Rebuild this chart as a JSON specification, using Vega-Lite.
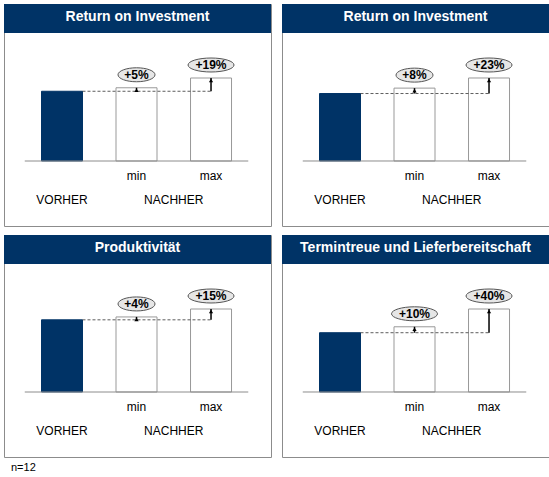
{
  "$schema": "https://vega.github.io/schema/vega-lite/v6.json",
  "description": "Vorher / Nachher, vier Kennzahlen",
  "background": "white",
  "padding": {"left": 3, "top": 3, "right": 0, "bottom": 0},
  "title": {
    "text": "n=12",
    "orient": "bottom",
    "anchor": "start",
    "frame": "group",
    "fontSize": 11,
    "fontWeight": "normal",
    "color": "black",
    "offset": 4,
    "dx": 7
  },
  "data": {
    "values": [
      {"p": 1, "phase": "VORHER", "grp": "VORHER", "pos": 1, "value": 100, "label": ""},
      {"p": 1, "phase": "min", "grp": "NACHHER", "pos": 2, "value": 105, "label": "+5%"},
      {"p": 1, "phase": "max", "grp": "NACHHER", "pos": 3, "value": 119, "label": "+19%"},
      {"p": 2, "phase": "VORHER", "grp": "VORHER", "pos": 1, "value": 100, "label": ""},
      {"p": 2, "phase": "min", "grp": "NACHHER", "pos": 2, "value": 108, "label": "+8%"},
      {"p": 2, "phase": "max", "grp": "NACHHER", "pos": 3, "value": 123, "label": "+23%"},
      {"p": 3, "phase": "VORHER", "grp": "VORHER", "pos": 1, "value": 100, "label": ""},
      {"p": 3, "phase": "min", "grp": "NACHHER", "pos": 2, "value": 104, "label": "+4%"},
      {"p": 3, "phase": "max", "grp": "NACHHER", "pos": 3, "value": 115, "label": "+15%"},
      {"p": 4, "phase": "VORHER", "grp": "VORHER", "pos": 1, "value": 100, "label": ""},
      {"p": 4, "phase": "min", "grp": "NACHHER", "pos": 2, "value": 110, "label": "+10%"},
      {"p": 4, "phase": "max", "grp": "NACHHER", "pos": 3, "value": 140, "label": "+40%"}
    ]
  },
  "columns": 2,
  "spacing": {"row": 7, "column": 9},
  "concat": [
    {
      "width": 267, "height": 222,
      "title": {"text": "Return on Investment", "color": "white", "fontSize": 14, "fontWeight": "bold", "anchor": "middle", "offset": -20},
      "transform": [{"filter": "datum.p == 1"}],
      "layer": [
        {"transform": [{"filter": "datum.phase == 'VORHER'"}], "mark": {"type": "rect", "color": "#003366"},
         "encoding": {
           "x": {"datum": 0.2215, "type": "quantitative", "scale": {"domain": [0.2215, 3.805], "nice": false, "zero": false, "padding": 0}, "axis": null},
           "x2": {"datum": 3.805},
           "y": {"datum": 183.52, "type": "quantitative", "scale": {"domain": [-93.19, 225.10], "nice": false, "zero": false, "padding": 0}, "axis": null},
           "y2": {"datum": 225.10}}},
        {"mark": {"type": "bar", "size": 41, "strokeWidth": 1},
         "encoding": {"x": {"field": "pos", "type": "quantitative"}, "y": {"field": "value", "type": "quantitative"}, "y2": {"datum": 0},
           "fill": {"condition": {"test": "datum.phase == 'VORHER'", "value": "#003366"}, "value": "white"},
           "stroke": {"condition": {"test": "datum.phase == 'VORHER'", "value": "#003366"}, "value": "#999999"}}},
        {"transform": [{"filter": "datum.phase == 'VORHER'"}], "mark": {"type": "rule", "color": "#8c8c8c", "strokeWidth": 1},
         "encoding": {"x": {"datum": 0.5, "type": "quantitative"}, "x2": {"datum": 3.5}, "y": {"datum": 0, "type": "quantitative"}}},
        {"transform": [{"filter": "datum.phase == 'VORHER'"}], "mark": {"type": "rule", "color": "#333333", "strokeWidth": 0.8, "strokeDash": [3, 2]},
         "encoding": {"x": {"datum": 1.275, "type": "quantitative"}, "x2": {"datum": 3}, "y": {"field": "value", "type": "quantitative"}}},
        {"transform": [{"filter": "datum.phase != 'VORHER'"}], "mark": {"type": "rule", "color": "black", "strokeWidth": 1.5},
         "encoding": {"x": {"field": "pos", "type": "quantitative"}, "y": {"field": "value", "type": "quantitative"}, "y2": {"datum": 100}}},
        {"transform": [{"filter": "datum.phase != 'VORHER'"}], "mark": {"type": "point", "shape": "triangle-up", "filled": true, "color": "black", "opacity": 1, "size": 18, "yOffset": 2.5},
         "encoding": {"x": {"field": "pos", "type": "quantitative"}, "y": {"field": "value", "type": "quantitative"}}},
        {"transform": [{"filter": "datum.phase != 'VORHER'"}], "mark": {"type": "point", "filled": true, "fill": "#e6e6e6", "stroke": "#555555", "strokeWidth": 1, "opacity": 1, "yOffset": -13},
         "encoding": {"x": {"field": "pos", "type": "quantitative"}, "y": {"field": "value", "type": "quantitative"},
           "shape": {"condition": {"test": "length(datum.label) < 4", "value": "M-1,0C-1,-0.209,-0.552,-0.378,0,-0.378C0.552,-0.378,1,-0.209,1,0C1,0.209,0.552,0.378,0,0.378C-0.552,0.378,-1,0.209,-1,0Z"}, "value": "M-1,0C-1,-0.168,-0.552,-0.304,0,-0.304C0.552,-0.304,1,-0.168,1,0C1,0.168,0.552,0.304,0,0.304C-0.552,0.304,-1,0.168,-1,0Z"},
           "size": {"condition": {"test": "length(datum.label) < 4", "value": 1369}, "value": 2116}}},
        {"transform": [{"filter": "datum.phase != 'VORHER'"}], "mark": {"type": "text", "fontSize": 12, "fontWeight": "bold", "color": "black", "baseline": "middle", "yOffset": -13},
         "encoding": {"x": {"field": "pos", "type": "quantitative"}, "y": {"field": "value", "type": "quantitative"}, "text": {"field": "label"}}},
        {"transform": [{"filter": "datum.phase != 'VORHER'"}], "mark": {"type": "text", "fontSize": 12, "color": "black", "baseline": "middle", "yOffset": 15},
         "encoding": {"x": {"field": "pos", "type": "quantitative"}, "y": {"datum": 0, "type": "quantitative"}, "text": {"field": "phase"}}},
        {"transform": [{"aggregate": [{"op": "mean", "field": "pos", "as": "pos"}], "groupby": ["grp"]}], "mark": {"type": "text", "fontSize": 12, "color": "black", "baseline": "middle", "yOffset": 39},
         "encoding": {"x": {"field": "pos", "type": "quantitative"}, "y": {"datum": 0, "type": "quantitative"}, "text": {"field": "grp"}}}
      ]
    },
    {
      "width": 267, "height": 222,
      "title": {"text": "Return on Investment", "color": "white", "fontSize": 14, "fontWeight": "bold", "anchor": "middle", "offset": -20},
      "transform": [{"filter": "datum.p == 2"}],
      "layer": [
        {"transform": [{"filter": "datum.phase == 'VORHER'"}], "mark": {"type": "rect", "color": "#003366"},
         "encoding": {
           "x": {"datum": 0.2215, "type": "quantitative", "scale": {"domain": [0.2215, 3.805], "nice": false, "zero": false, "padding": 0}, "axis": null},
           "x2": {"datum": 3.805},
           "y": {"datum": 189.69, "type": "quantitative", "scale": {"domain": [-96.33, 232.66], "nice": false, "zero": false, "padding": 0}, "axis": null},
           "y2": {"datum": 232.66}}},
        {"mark": {"type": "bar", "size": 41, "strokeWidth": 1},
         "encoding": {"x": {"field": "pos", "type": "quantitative"}, "y": {"field": "value", "type": "quantitative"}, "y2": {"datum": 0},
           "fill": {"condition": {"test": "datum.phase == 'VORHER'", "value": "#003366"}, "value": "white"},
           "stroke": {"condition": {"test": "datum.phase == 'VORHER'", "value": "#003366"}, "value": "#999999"}}},
        {"transform": [{"filter": "datum.phase == 'VORHER'"}], "mark": {"type": "rule", "color": "#8c8c8c", "strokeWidth": 1},
         "encoding": {"x": {"datum": 0.5, "type": "quantitative"}, "x2": {"datum": 3.5}, "y": {"datum": 0, "type": "quantitative"}}},
        {"transform": [{"filter": "datum.phase == 'VORHER'"}], "mark": {"type": "rule", "color": "#333333", "strokeWidth": 0.8, "strokeDash": [3, 2]},
         "encoding": {"x": {"datum": 1.275, "type": "quantitative"}, "x2": {"datum": 3}, "y": {"field": "value", "type": "quantitative"}}},
        {"transform": [{"filter": "datum.phase != 'VORHER'"}], "mark": {"type": "rule", "color": "black", "strokeWidth": 1.5},
         "encoding": {"x": {"field": "pos", "type": "quantitative"}, "y": {"field": "value", "type": "quantitative"}, "y2": {"datum": 100}}},
        {"transform": [{"filter": "datum.phase != 'VORHER'"}], "mark": {"type": "point", "shape": "triangle-up", "filled": true, "color": "black", "opacity": 1, "size": 18, "yOffset": 2.5},
         "encoding": {"x": {"field": "pos", "type": "quantitative"}, "y": {"field": "value", "type": "quantitative"}}},
        {"transform": [{"filter": "datum.phase != 'VORHER'"}], "mark": {"type": "point", "filled": true, "fill": "#e6e6e6", "stroke": "#555555", "strokeWidth": 1, "opacity": 1, "yOffset": -13},
         "encoding": {"x": {"field": "pos", "type": "quantitative"}, "y": {"field": "value", "type": "quantitative"},
           "shape": {"condition": {"test": "length(datum.label) < 4", "value": "M-1,0C-1,-0.209,-0.552,-0.378,0,-0.378C0.552,-0.378,1,-0.209,1,0C1,0.209,0.552,0.378,0,0.378C-0.552,0.378,-1,0.209,-1,0Z"}, "value": "M-1,0C-1,-0.168,-0.552,-0.304,0,-0.304C0.552,-0.304,1,-0.168,1,0C1,0.168,0.552,0.304,0,0.304C-0.552,0.304,-1,0.168,-1,0Z"},
           "size": {"condition": {"test": "length(datum.label) < 4", "value": 1369}, "value": 2116}}},
        {"transform": [{"filter": "datum.phase != 'VORHER'"}], "mark": {"type": "text", "fontSize": 12, "fontWeight": "bold", "color": "black", "baseline": "middle", "yOffset": -13},
         "encoding": {"x": {"field": "pos", "type": "quantitative"}, "y": {"field": "value", "type": "quantitative"}, "text": {"field": "label"}}},
        {"transform": [{"filter": "datum.phase != 'VORHER'"}], "mark": {"type": "text", "fontSize": 12, "color": "black", "baseline": "middle", "yOffset": 15},
         "encoding": {"x": {"field": "pos", "type": "quantitative"}, "y": {"datum": 0, "type": "quantitative"}, "text": {"field": "phase"}}},
        {"transform": [{"aggregate": [{"op": "mean", "field": "pos", "as": "pos"}], "groupby": ["grp"]}], "mark": {"type": "text", "fontSize": 12, "color": "black", "baseline": "middle", "yOffset": 39},
         "encoding": {"x": {"field": "pos", "type": "quantitative"}, "y": {"datum": 0, "type": "quantitative"}, "text": {"field": "grp"}}}
      ]
    },
    {
      "width": 267, "height": 222,
      "title": {"text": "Produktivität", "color": "white", "fontSize": 14, "fontWeight": "bold", "anchor": "middle", "offset": -20},
      "transform": [{"filter": "datum.p == 3"}],
      "layer": [
        {"transform": [{"filter": "datum.phase == 'VORHER'"}], "mark": {"type": "rect", "color": "#003366"},
         "encoding": {
           "x": {"datum": 0.2215, "type": "quantitative", "scale": {"domain": [0.2215, 3.805], "nice": false, "zero": false, "padding": 0}, "axis": null},
           "x2": {"datum": 3.805},
           "y": {"datum": 177.35, "type": "quantitative", "scale": {"domain": [-90.06, 217.53], "nice": false, "zero": false, "padding": 0}, "axis": null},
           "y2": {"datum": 217.53}}},
        {"mark": {"type": "bar", "size": 41, "strokeWidth": 1},
         "encoding": {"x": {"field": "pos", "type": "quantitative"}, "y": {"field": "value", "type": "quantitative"}, "y2": {"datum": 0},
           "fill": {"condition": {"test": "datum.phase == 'VORHER'", "value": "#003366"}, "value": "white"},
           "stroke": {"condition": {"test": "datum.phase == 'VORHER'", "value": "#003366"}, "value": "#999999"}}},
        {"transform": [{"filter": "datum.phase == 'VORHER'"}], "mark": {"type": "rule", "color": "#8c8c8c", "strokeWidth": 1},
         "encoding": {"x": {"datum": 0.5, "type": "quantitative"}, "x2": {"datum": 3.5}, "y": {"datum": 0, "type": "quantitative"}}},
        {"transform": [{"filter": "datum.phase == 'VORHER'"}], "mark": {"type": "rule", "color": "#333333", "strokeWidth": 0.8, "strokeDash": [3, 2]},
         "encoding": {"x": {"datum": 1.275, "type": "quantitative"}, "x2": {"datum": 3}, "y": {"field": "value", "type": "quantitative"}}},
        {"transform": [{"filter": "datum.phase != 'VORHER'"}], "mark": {"type": "rule", "color": "black", "strokeWidth": 1.5},
         "encoding": {"x": {"field": "pos", "type": "quantitative"}, "y": {"field": "value", "type": "quantitative"}, "y2": {"datum": 100}}},
        {"transform": [{"filter": "datum.phase != 'VORHER'"}], "mark": {"type": "point", "shape": "triangle-up", "filled": true, "color": "black", "opacity": 1, "size": 18, "yOffset": 2.5},
         "encoding": {"x": {"field": "pos", "type": "quantitative"}, "y": {"field": "value", "type": "quantitative"}}},
        {"transform": [{"filter": "datum.phase != 'VORHER'"}], "mark": {"type": "point", "filled": true, "fill": "#e6e6e6", "stroke": "#555555", "strokeWidth": 1, "opacity": 1, "yOffset": -13},
         "encoding": {"x": {"field": "pos", "type": "quantitative"}, "y": {"field": "value", "type": "quantitative"},
           "shape": {"condition": {"test": "length(datum.label) < 4", "value": "M-1,0C-1,-0.209,-0.552,-0.378,0,-0.378C0.552,-0.378,1,-0.209,1,0C1,0.209,0.552,0.378,0,0.378C-0.552,0.378,-1,0.209,-1,0Z"}, "value": "M-1,0C-1,-0.168,-0.552,-0.304,0,-0.304C0.552,-0.304,1,-0.168,1,0C1,0.168,0.552,0.304,0,0.304C-0.552,0.304,-1,0.168,-1,0Z"},
           "size": {"condition": {"test": "length(datum.label) < 4", "value": 1369}, "value": 2116}}},
        {"transform": [{"filter": "datum.phase != 'VORHER'"}], "mark": {"type": "text", "fontSize": 12, "fontWeight": "bold", "color": "black", "baseline": "middle", "yOffset": -13},
         "encoding": {"x": {"field": "pos", "type": "quantitative"}, "y": {"field": "value", "type": "quantitative"}, "text": {"field": "label"}}},
        {"transform": [{"filter": "datum.phase != 'VORHER'"}], "mark": {"type": "text", "fontSize": 12, "color": "black", "baseline": "middle", "yOffset": 15},
         "encoding": {"x": {"field": "pos", "type": "quantitative"}, "y": {"datum": 0, "type": "quantitative"}, "text": {"field": "phase"}}},
        {"transform": [{"aggregate": [{"op": "mean", "field": "pos", "as": "pos"}], "groupby": ["grp"]}], "mark": {"type": "text", "fontSize": 12, "color": "black", "baseline": "middle", "yOffset": 39},
         "encoding": {"x": {"field": "pos", "type": "quantitative"}, "y": {"datum": 0, "type": "quantitative"}, "text": {"field": "grp"}}}
      ]
    },
    {
      "width": 267, "height": 222,
      "title": {"text": "Termintreue und Lieferbereitschaft", "color": "white", "fontSize": 14, "fontWeight": "bold", "anchor": "middle", "offset": -20},
      "transform": [{"filter": "datum.p == 4"}],
      "layer": [
        {"transform": [{"filter": "datum.phase == 'VORHER'"}], "mark": {"type": "rect", "color": "#003366"},
         "encoding": {
           "x": {"datum": 0.2215, "type": "quantitative", "scale": {"domain": [0.2215, 3.805], "nice": false, "zero": false, "padding": 0}, "axis": null},
           "x2": {"datum": 3.805},
           "y": {"datum": 215.90, "type": "quantitative", "scale": {"domain": [-109.64, 264.82], "nice": false, "zero": false, "padding": 0}, "axis": null},
           "y2": {"datum": 264.82}}},
        {"mark": {"type": "bar", "size": 41, "strokeWidth": 1},
         "encoding": {"x": {"field": "pos", "type": "quantitative"}, "y": {"field": "value", "type": "quantitative"}, "y2": {"datum": 0},
           "fill": {"condition": {"test": "datum.phase == 'VORHER'", "value": "#003366"}, "value": "white"},
           "stroke": {"condition": {"test": "datum.phase == 'VORHER'", "value": "#003366"}, "value": "#999999"}}},
        {"transform": [{"filter": "datum.phase == 'VORHER'"}], "mark": {"type": "rule", "color": "#8c8c8c", "strokeWidth": 1},
         "encoding": {"x": {"datum": 0.5, "type": "quantitative"}, "x2": {"datum": 3.5}, "y": {"datum": 0, "type": "quantitative"}}},
        {"transform": [{"filter": "datum.phase == 'VORHER'"}], "mark": {"type": "rule", "color": "#333333", "strokeWidth": 0.8, "strokeDash": [3, 2]},
         "encoding": {"x": {"datum": 1.275, "type": "quantitative"}, "x2": {"datum": 3}, "y": {"field": "value", "type": "quantitative"}}},
        {"transform": [{"filter": "datum.phase != 'VORHER'"}], "mark": {"type": "rule", "color": "black", "strokeWidth": 1.5},
         "encoding": {"x": {"field": "pos", "type": "quantitative"}, "y": {"field": "value", "type": "quantitative"}, "y2": {"datum": 100}}},
        {"transform": [{"filter": "datum.phase != 'VORHER'"}], "mark": {"type": "point", "shape": "triangle-up", "filled": true, "color": "black", "opacity": 1, "size": 18, "yOffset": 2.5},
         "encoding": {"x": {"field": "pos", "type": "quantitative"}, "y": {"field": "value", "type": "quantitative"}}},
        {"transform": [{"filter": "datum.phase != 'VORHER'"}], "mark": {"type": "point", "filled": true, "fill": "#e6e6e6", "stroke": "#555555", "strokeWidth": 1, "opacity": 1, "yOffset": -13},
         "encoding": {"x": {"field": "pos", "type": "quantitative"}, "y": {"field": "value", "type": "quantitative"},
           "shape": {"condition": {"test": "length(datum.label) < 4", "value": "M-1,0C-1,-0.209,-0.552,-0.378,0,-0.378C0.552,-0.378,1,-0.209,1,0C1,0.209,0.552,0.378,0,0.378C-0.552,0.378,-1,0.209,-1,0Z"}, "value": "M-1,0C-1,-0.168,-0.552,-0.304,0,-0.304C0.552,-0.304,1,-0.168,1,0C1,0.168,0.552,0.304,0,0.304C-0.552,0.304,-1,0.168,-1,0Z"},
           "size": {"condition": {"test": "length(datum.label) < 4", "value": 1369}, "value": 2116}}},
        {"transform": [{"filter": "datum.phase != 'VORHER'"}], "mark": {"type": "text", "fontSize": 12, "fontWeight": "bold", "color": "black", "baseline": "middle", "yOffset": -13},
         "encoding": {"x": {"field": "pos", "type": "quantitative"}, "y": {"field": "value", "type": "quantitative"}, "text": {"field": "label"}}},
        {"transform": [{"filter": "datum.phase != 'VORHER'"}], "mark": {"type": "text", "fontSize": 12, "color": "black", "baseline": "middle", "yOffset": 15},
         "encoding": {"x": {"field": "pos", "type": "quantitative"}, "y": {"datum": 0, "type": "quantitative"}, "text": {"field": "phase"}}},
        {"transform": [{"aggregate": [{"op": "mean", "field": "pos", "as": "pos"}], "groupby": ["grp"]}], "mark": {"type": "text", "fontSize": 12, "color": "black", "baseline": "middle", "yOffset": 39},
         "encoding": {"x": {"field": "pos", "type": "quantitative"}, "y": {"datum": 0, "type": "quantitative"}, "text": {"field": "grp"}}}
      ]
    }
  ],
  "config": {
    "font": "Liberation Sans",
    "view": {"stroke": "#8c8c8c", "strokeWidth": 1},
    "title": {"font": "Liberation Sans"}
  }
}
